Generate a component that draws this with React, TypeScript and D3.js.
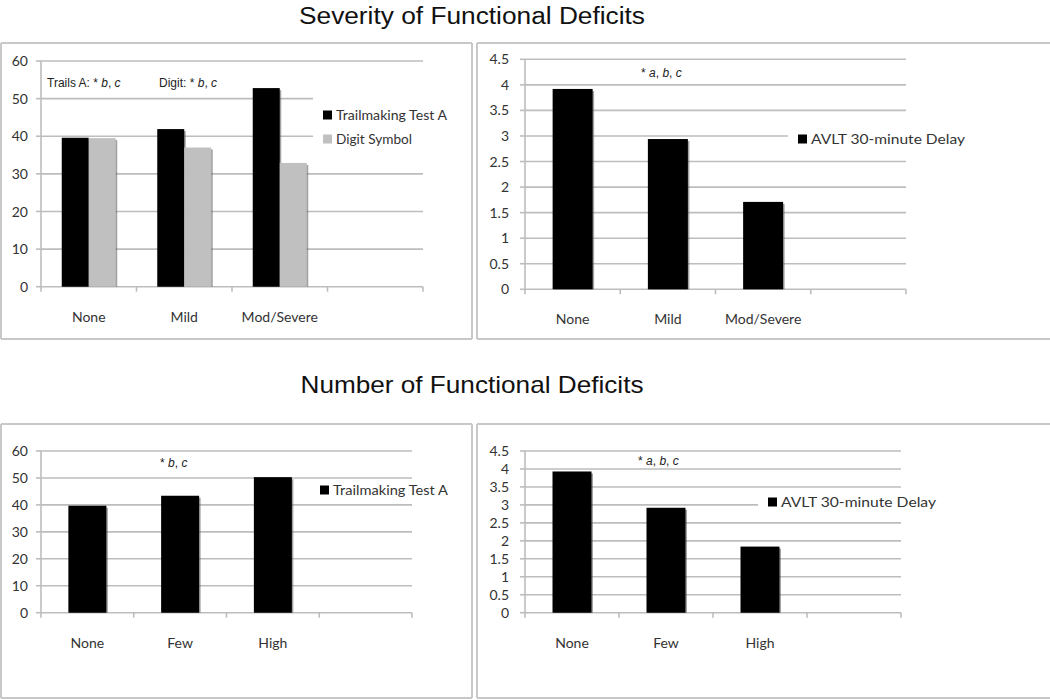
import React from "react";
import * as d3 from "d3";

// ---------- data ----------
const severityCategories = ["None", "Mild", "Mod/Severe"];
const numberCategories = ["None", "Few", "High"];
const severityTrailsA = [39.6, 41.9, 52.8];
const severityDigitSymbol = [39.5, 37.0, 32.9];
const severityAvlt = [3.92, 2.94, 1.71];
const numberTrailsA = [39.7, 43.4, 50.3];
const numberAvlt = [3.93, 2.92, 1.84];
const ticks60 = [0, 10, 20, 30, 40, 50, 60];
const ticks45 = [0, 0.5, 1, 1.5, 2, 2.5, 3, 3.5, 4, 4.5];
const seriesNames = {
  trails: "Trailmaking Test A",
  digit: "Digit Symbol",
  avlt: "AVLT 30-minute Delay",
};
const titles = ["Severity of Functional Deficits", "Number of Functional Deficits"];

const LABEL_FONT = "Lato, 'Open Sans', sans-serif";
const ARIAL = "'Liberation Sans', Arial, sans-serif";
const GRID = "#bdbdbd";
const BORDER = "#c8c8c8";

type Series = { name: string; values: number[]; color: string };
type NotePart = { t: string; italic?: boolean };
type PanelProps = {
  box: { x1: number; y1: number; x2: number; y2: number; right: boolean };
  plot: { left: number; right: number; top: number; bottom: number };
  yMax: number;
  ticks: number[];
  categories: string[];
  series: Series[];
  groupWidth: number;
  labelY: number;
  tickGap: number;
  legend: { x: number; y: number; dy: number; bg: number[]; lengths: number[] };
  notes: { x: number; y: number; parts: NotePart[] }[];
};

function Panel(p: PanelProps) {
  const { box, plot } = p;
  const slots = [...p.categories, "__empty__"];
  const x = d3.scaleBand<string>().domain(slots).range([plot.left, plot.right]).padding(0);
  const y = d3.scaleLinear().domain([0, p.yMax]).range([plot.bottom, plot.top]);
  const bw = x.bandwidth();
  const inner = d3
    .scaleBand<string>()
    .domain(p.series.map((s) => s.name))
    .range([(bw - p.groupWidth) / 2, (bw + p.groupWidth) / 2])
    .padding(0);
  const boundaries = slots.map((s) => x(s) as number).concat([plot.right]);
  return (
    <g>
      {/* panel border */}
      <line x1={box.x1} x2={box.x2} y1={box.y1} y2={box.y1} stroke={BORDER} strokeWidth={2} />
      <line x1={box.x1} x2={box.x2} y1={box.y2} y2={box.y2} stroke={BORDER} strokeWidth={2} />
      <line x1={box.x1} x2={box.x1} y1={box.y1} y2={box.y2} stroke={BORDER} strokeWidth={2} />
      {box.right && <line x1={box.x2} x2={box.x2} y1={box.y1} y2={box.y2} stroke={BORDER} strokeWidth={2} />}
      {/* gridlines */}
      {p.ticks.map((t) => (
        <line key={"g" + t} x1={plot.left} x2={plot.right} y1={y(t)} y2={y(t)} stroke={GRID} strokeWidth={1.6} />
      ))}
      {/* y axis */}
      <line x1={plot.left} x2={plot.left} y1={plot.top} y2={plot.bottom} stroke={GRID} strokeWidth={1.6} />
      {p.ticks.map((t) => (
        <g key={"t" + t}>
          <line x1={plot.left - 5} x2={plot.left} y1={y(t)} y2={y(t)} stroke={GRID} strokeWidth={1.6} />
          <text
            x={plot.left - p.tickGap}
            y={y(t)}
            dy="0.36em"
            textAnchor="end"
            fontFamily={LABEL_FONT}
            fontSize={14}
            fill="#333"
          >
            {String(t)}
          </text>
        </g>
      ))}
      {/* x axis ticks */}
      {boundaries.map((b, i) => (
        <line key={"xb" + i} x1={b} x2={b} y1={plot.bottom} y2={plot.bottom + 5} stroke={GRID} strokeWidth={1.6} />
      ))}
      {/* legend background */}
      <rect x={p.legend.bg[0]} y={p.legend.bg[1]} width={p.legend.bg[2]} height={p.legend.bg[3]} fill="#fff" />
      {/* bars */}
      {p.series.map((s) =>
        p.categories.map((c, i) => {
          const bx = (x(c) as number) + (inner(s.name) as number);
          const w = inner.bandwidth();
          const top = y(s.values[i]);
          return (
            <g key={s.name + c}>
              <rect x={bx + 1.5} y={top + 2} width={w} height={plot.bottom - top - 2} fill="#555" opacity={0.55} />
              <rect x={bx} y={top} width={w} height={plot.bottom - top} fill={s.color} />
            </g>
          );
        })
      )}
      {/* category labels */}
      {p.categories.map((c) => (
        <text
          key={"c" + c}
          x={(x(c) as number) + bw / 2}
          y={p.labelY}
          textAnchor="middle"
          fontFamily={LABEL_FONT}
          fontSize={14}
          fill="#333"
        >
          {c}
        </text>
      ))}
      {/* legend */}
      {p.series.map((s, i) => (
        <g key={"l" + s.name}>
          <rect x={p.legend.x} y={p.legend.y + i * p.legend.dy - 4.5} width={9} height={9} fill={s.color} />
          <text
            x={p.legend.x + 13}
            y={p.legend.y + i * p.legend.dy}
            dy="0.36em"
            fontFamily={LABEL_FONT}
            fontSize={14}
            fill="#333"
            textLength={p.legend.lengths[i]}
            lengthAdjust="spacingAndGlyphs"
          >
            {s.name}
          </text>
        </g>
      ))}
      {/* significance notes */}
      {p.notes.map((n, k) => (
        <text key={"n" + k} x={n.x} y={n.y} fontFamily={ARIAL} fontSize={12} fill="#222">
          {n.parts.map((pt, j) => (
            <tspan key={j} fontStyle={pt.italic ? "italic" : "normal"}>
              {pt.t}
            </tspan>
          ))}
        </text>
      ))}
    </g>
  );
}

export default function App() {
  return (
    <svg
      width={1050}
      height={700}
      style={{ position: "absolute", left: 0, top: 0, background: "#fff" }}
    >
      <rect x={0} y={0} width={1050} height={700} fill="#fff" />
      <text x={472} y={24} textAnchor="middle" fontFamily={ARIAL} fontSize={23} fill="#111" textLength={346} lengthAdjust="spacingAndGlyphs">
        {titles[0]}
      </text>
      <text x={472} y={393} textAnchor="middle" fontFamily={ARIAL} fontSize={24} fill="#111" textLength={343} lengthAdjust="spacingAndGlyphs">
        {titles[1]}
      </text>

      {/* top-left */}
      <Panel
        box={{ x1: 1, y1: 43, x2: 472, y2: 339, right: true }}
        plot={{ left: 41, right: 423, top: 61, bottom: 286.7 }}
        yMax={60}
        ticks={ticks60}
        categories={severityCategories}
        series={[
          { name: seriesNames.trails, values: severityTrailsA, color: "#000" },
          { name: seriesNames.digit, values: severityDigitSymbol, color: "#c0c0c0" },
        ]}
        groupWidth={54}
        labelY={322}
        tickGap={13}
        legend={{ x: 323, y: 115, dy: 24, bg: [313, 96, 140, 58], lengths: [111, 76] }}
        notes={[
          { x: 47, y: 87, parts: [{ t: "Trails A: * " }, { t: "b", italic: true }, { t: ", " }, { t: "c", italic: true }] },
          { x: 159, y: 87, parts: [{ t: "Digit: * " }, { t: "b", italic: true }, { t: ", " }, { t: "c", italic: true }] },
        ]}
      />

      {/* top-right */}
      <Panel
        box={{ x1: 477, y1: 43, x2: 1050, y2: 339, right: false }}
        plot={{ left: 525, right: 906, top: 59.3, bottom: 289.3 }}
        yMax={4.5}
        ticks={ticks45}
        categories={severityCategories}
        series={[{ name: seriesNames.avlt, values: severityAvlt, color: "#000" }]}
        groupWidth={40}
        labelY={324}
        tickGap={16}
        legend={{ x: 798, y: 139, dy: 24, bg: [788, 128, 185, 22], lengths: [154] }}
        notes={[
          { x: 641, y: 77, parts: [{ t: "* " }, { t: "a", italic: true }, { t: ", " }, { t: "b", italic: true }, { t: ", " }, { t: "c", italic: true }] },
        ]}
      />

      {/* bottom-left */}
      <Panel
        box={{ x1: 1, y1: 424, x2: 472, y2: 698, right: true }}
        plot={{ left: 41, right: 412, top: 451, bottom: 612.7 }}
        yMax={60}
        ticks={ticks60}
        categories={numberCategories}
        series={[{ name: seriesNames.trails, values: numberTrailsA, color: "#000" }]}
        groupWidth={38}
        labelY={648}
        tickGap={13}
        legend={{ x: 320, y: 490, dy: 24, bg: [312, 480, 145, 20], lengths: [115] }}
        notes={[
          { x: 160, y: 467, parts: [{ t: "* " }, { t: "b", italic: true }, { t: ", " }, { t: "c", italic: true }] },
        ]}
      />

      {/* bottom-right */}
      <Panel
        box={{ x1: 477, y1: 424, x2: 1050, y2: 698, right: false }}
        plot={{ left: 525, right: 901, top: 451, bottom: 612.7 }}
        yMax={4.5}
        ticks={ticks45}
        categories={numberCategories}
        series={[{ name: seriesNames.avlt, values: numberAvlt, color: "#000" }]}
        groupWidth={39}
        labelY={648}
        tickGap={16}
        legend={{ x: 768, y: 502, dy: 24, bg: [758, 491, 185, 22], lengths: [155] }}
        notes={[
          { x: 638, y: 465, parts: [{ t: "* " }, { t: "a", italic: true }, { t: ", " }, { t: "b", italic: true }, { t: ", " }, { t: "c", italic: true }] },
        ]}
      />
    </svg>
  );
}
